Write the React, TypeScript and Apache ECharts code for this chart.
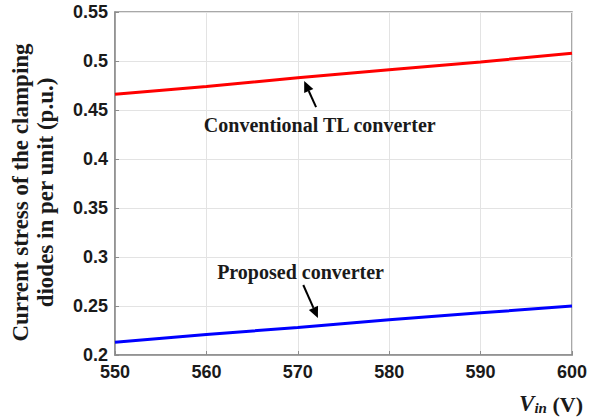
import React, { useEffect, useRef } from "react";
import * as echarts from "echarts";

const vin = [550, 560, 570, 580, 590, 600];
const conventional = [0.466, 0.474, 0.483, 0.491, 0.499, 0.508];
const proposed = [0.213, 0.221, 0.228, 0.236, 0.243, 0.25];
const yTicks = [0.2, 0.25, 0.3, 0.35, 0.4, 0.45, 0.5, 0.55];

const serif = "'Liberation Serif', 'Times New Roman', serif";
const sans = "'Liberation Sans', Arial, sans-serif";

export default function App() {
  const ref = useRef<HTMLDivElement>(null);
  useEffect(() => {
    document.body.style.margin = "0";
    const chart = echarts.init(ref.current!, null, { renderer: "svg" });
    const option: any = {
      animation: false,
      backgroundColor: "#ffffff",
      grid: {
        left: 109,
        right: 33,
        top: 12,
        bottom: 64,
        show: true,
        borderColor: "#8c8c8c",
        borderWidth: 1.5,
      },
      xAxis: {
        type: "value",
        min: 550,
        max: 600,
        interval: 10,
        axisLine: { show: true, lineStyle: { color: "#8c8c8c", width: 1.5 } },
        axisTick: { show: true, inside: true, length: 4, lineStyle: { color: "#8c8c8c" } },
        splitLine: { show: true, lineStyle: { color: "#e3e3e3", width: 1 } },
        axisLabel: {
          color: "#1a1a1a",
          fontFamily: sans,
          fontWeight: "bold",
          fontSize: 18,
          margin: 8,
        },
      },
      yAxis: {
        type: "value",
        min: yTicks[0],
        max: yTicks[yTicks.length - 1],
        interval: 0.05,
        axisLine: { show: true, lineStyle: { color: "#8c8c8c", width: 1.5 } },
        axisTick: { show: true, inside: true, length: 4, lineStyle: { color: "#8c8c8c" } },
        splitLine: { show: true, lineStyle: { color: "#e3e3e3", width: 1 } },
        axisLabel: {
          color: "#1a1a1a",
          fontFamily: sans,
          fontWeight: "bold",
          fontSize: 18,
          margin: 7,
          formatter: (v: number) => String(Math.round(v * 100) / 100),
        },
        name: "Current stress of the clamping\ndiodes in per unit (p.u.)",
        nameLocation: "middle",
        nameRotate: 90,
        nameGap: 57,
        nameTextStyle: {
          fontFamily: serif,
          fontWeight: "bold",
          fontSize: 23,
          color: "#1a1a1a",
          lineHeight: 25,
          padding: [0, 18, 0, 0],
        },
      },
      series: [
        {
          type: "line",
          data: vin.map((x, i) => [x, conventional[i]]),
          showSymbol: false,
          lineStyle: { color: "#ff0000", width: 3 },
        },
        {
          type: "line",
          data: vin.map((x, i) => [x, proposed[i]]),
          showSymbol: false,
          lineStyle: { color: "#0000ff", width: 3 },
        },
      ],
    };
    chart.setOption(option);

    const p = (x: number, y: number) => chart.convertToPixel({ gridIndex: 0 }, [x, y]) as number[];
    const arrow = (from: number[], to: number[]) => {
      const dx = to[0] - from[0];
      const dy = to[1] - from[1];
      const len = Math.sqrt(dx * dx + dy * dy);
      const ux = dx / len;
      const uy = dy / len;
      const hl = 11;
      const hw = 5;
      const bx = to[0] - ux * hl;
      const by = to[1] - uy * hl;
      return [
        {
          type: "line",
          shape: { x1: from[0], y1: from[1], x2: bx, y2: by },
          style: { stroke: "#000", lineWidth: 2 },
        },
        {
          type: "polygon",
          shape: {
            points: [
              [to[0], to[1]],
              [bx - uy * hw, by + ux * hw],
              [bx + uy * hw, by - ux * hw],
            ],
          },
          style: { fill: "#000" },
        },
      ];
    };

    const convText = p(572.4, 0.4347);
    const convFrom = p(572.0, 0.453);
    const convTo = p(570.7, 0.4796);
    const propText = p(570.3, 0.2847);
    const propFrom = p(570.6, 0.2714);
    const propTo = p(572.2, 0.2378);

    chart.setOption({
      graphic: [
        {
          type: "text",
          x: convText[0],
          y: convText[1],
          style: {
            text: "Conventional TL converter",
            fontFamily: serif,
            fontWeight: "bold",
            fontSize: 20,
            fill: "#1a1a1a",
            align: "center",
            verticalAlign: "middle",
          },
        },
        ...arrow(convFrom, convTo),
        {
          type: "text",
          x: propText[0],
          y: propText[1],
          style: {
            text: "Proposed converter",
            fontFamily: serif,
            fontWeight: "bold",
            fontSize: 20,
            fill: "#1a1a1a",
            align: "center",
            verticalAlign: "middle",
          },
        },
        ...arrow(propFrom, propTo),
        {
          type: "text",
          right: 22,
          top: 392,
          style: {
            text: "{v|V}{s|in}{u| (V)}",
            fill: "#1a1a1a",
            rich: {
              v: { fontFamily: serif, fontStyle: "italic", fontWeight: "bold", fontSize: 23, fill: "#1a1a1a", verticalAlign: "bottom" },
              s: { fontFamily: serif, fontStyle: "italic", fontWeight: "bold", fontSize: 15, fill: "#1a1a1a", padding: [9, 0, 0, 0], verticalAlign: "bottom" },
              u: { fontFamily: serif, fontWeight: "bold", fontSize: 22, fill: "#1a1a1a", verticalAlign: "bottom" },
            },
          },
        },
      ],
    });

    return () => chart.dispose();
  }, []);
  return <div ref={ref} style={{ width: 605, height: 419 }} />;
}
